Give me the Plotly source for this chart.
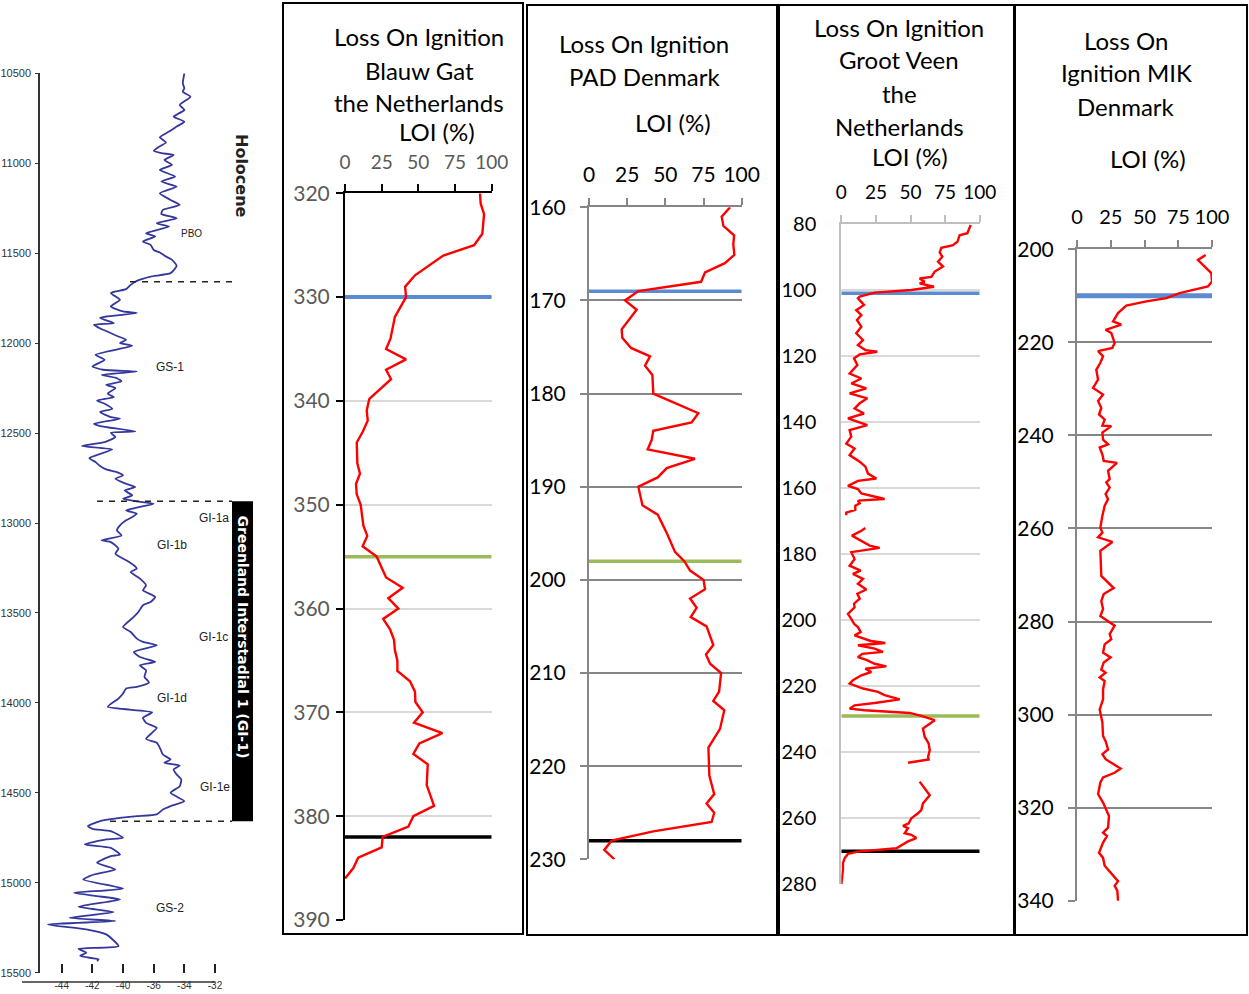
import plotly.graph_objects as go

W, H = 1249, 994


def px(x):
    return x / W


def py(y):
    return 1 - y / H


# ---------------- Greenland ice-core isotope record ----------------
ice_age = [10500, 10556, 10583, 10602, 10630, 10676, 10704, 10741, 10769, 10796,
           10824, 10843, 10856, 10885, 10911, 10930, 10944, 10954, 10982, 11009,
           11037, 11074, 11102, 11130, 11167, 11204, 11232, 11259, 11282, 11306,
           11333, 11352, 11389, 11407, 11435, 11454, 11482, 11496, 11519, 11537,
           11570, 11611, 11630, 11654, 11676, 11700, 11713, 11722, 11759, 11796,
           11824, 11833, 11852, 11861, 11889, 11898, 11926, 11963, 11982, 12000,
           12015, 12065, 12093, 12130, 12148, 12158, 12176, 12195, 12213, 12232,
           12250, 12281, 12300, 12319, 12337, 12365, 12383, 12411, 12420, 12448,
           12461, 12491, 12498, 12522, 12550, 12572, 12591, 12639, 12661, 12683,
           12702, 12717, 12735, 12754, 12782, 12800, 12819, 12846, 12865, 12880,
           12893, 12911, 12930, 12948, 12967, 12985, 13013, 13041, 13069, 13096,
           13106, 13124, 13143, 13170, 13189, 13207, 13235, 13254, 13272, 13309,
           13346, 13374, 13411, 13439, 13457, 13495, 13522, 13578, 13606, 13643,
           13661, 13680, 13717, 13745, 13772, 13791, 13819, 13856, 13887, 13911,
           13920, 13948, 13976, 14022, 14052, 14083, 14111, 14139, 14200, 14222,
           14250, 14287, 14315, 14333, 14348, 14370, 14398, 14426, 14463, 14500,
           14546, 14574, 14593, 14620, 14630, 14639, 14657, 14685, 14700, 14713,
           14750, 14759, 14787, 14806, 14843, 14852, 14889, 14926, 14954, 14982,
           15033, 15056, 15074, 15093, 15133, 15163, 15195, 15213, 15232, 15259,
           15287, 15352, 15367, 15389, 15407, 15426, 15435]
ice_d18o = [-36.0, -36.1, -36.0, -36.1, -35.6, -36.3, -36.0, -36.7, -36.0, -36.5,
            -37.0, -37.4, -37.6, -37.2, -37.7, -38.0, -37.5, -36.7, -37.3, -36.8,
            -37.6, -36.6, -37.5, -36.5, -37.6, -36.9, -36.3, -37.4, -37.5, -36.5,
            -37.8, -37.0, -38.5, -37.9, -38.7, -38.2, -38.0, -37.6, -37.2, -36.8,
            -36.5, -36.9, -38.2, -39.1, -39.5, -39.8, -40.5, -40.8, -40.2, -40.8,
            -40.0, -39.1, -41.1, -41.5, -40.6, -41.9, -41.3, -40.3, -39.8, -40.2,
            -39.4, -41.8, -41.2, -42.0, -41.3, -39.1, -41.4, -40.4, -40.1, -41.1,
            -40.5, -41.0, -40.6, -41.7, -41.2, -40.7, -41.5, -40.8, -40.2, -41.9,
            -41.5, -39.2, -40.8, -40.5, -41.2, -42.7, -40.7, -42.2, -41.8, -41.5,
            -41.1, -40.4, -40.0, -40.5, -39.8, -39.2, -39.9, -39.4, -40.0, -39.1,
            -38.0, -38.9, -39.8, -39.1, -39.4, -39.8, -40.2, -40.4, -40.1, -41.4,
            -40.8, -40.5, -40.3, -40.5, -40.2, -39.8, -39.3, -39.1, -39.5, -38.9,
            -38.5, -38.7, -37.9, -38.2, -38.7, -39.0, -39.3, -40.0, -39.5, -39.1,
            -38.7, -37.8, -39.3, -38.9, -37.9, -38.9, -38.5, -38.6, -38.3, -39.1,
            -39.8, -40.0, -40.3, -41.0, -38.1, -38.7, -38.5, -37.8, -38.5, -37.8,
            -37.6, -37.4, -36.9, -37.3, -36.3, -36.7, -36.5, -36.2, -36.3, -36.9,
            -36.0, -36.9, -37.4, -37.8, -39.1, -40.2, -41.5, -42.3, -42.0, -40.8,
            -40.0, -41.1, -42.5, -40.8, -40.2, -40.8, -41.7, -40.5, -41.9, -42.6,
            -40.0, -43.2, -41.7, -40.2, -42.9, -40.6, -43.5, -40.5, -44.9, -42.4,
            -41.1, -40.3, -42.9, -42.4, -42.8, -41.6, -41.7]
ice_age_ticks = [10500, 11000, 11500, 12000, 12500, 13000, 13500, 14000, 14500, 15000, 15500]
ice_x_ticks = [-44, -42, -40, -38, -36, -34]
ice_x_ticktext = ["-44", "-42", "-40", "-36", "-34", "-32"]
# Stage boundaries (Holocene onset, GI-1 top, GI-1 base)
stage_bounds = [11659, 12879, 14658]
stage_names = ["PBO", "GS-1", "GI-1a", "GI-1b", "GI-1c", "GI-1d", "GI-1e", "GS-2"]

# ---------------- Loss on ignition records ----------------
bg_depth = [320, 321, 322, 323.9, 325, 326, 327.9, 329, 330, 331.9, 334, 335, 336, 337,
            337.9, 339.8, 340.9, 341.9, 343, 344, 346, 347, 348, 349, 350, 352, 353, 354,
            355, 356, 357, 358, 359, 360, 361, 362, 363, 364, 365, 366, 367, 368, 369,
            370, 371, 372, 373, 374, 375, 377, 379, 380, 381, 382, 383, 384, 385, 386]
bg_loi = [92, 92.5, 94.8, 93.6, 88, 67, 47.7, 41, 41.6, 34, 31, 28, 41.6, 28,
          31.4, 16.6, 14.8, 15.5, 12, 8, 8.4, 10.2, 7.5, 8, 10.7, 12.5, 15.2, 12,
          21.6, 25, 28, 39.3, 29.5, 36.4, 26, 30.7, 33.4, 34, 35.7, 35.7, 44.3, 47.7, 48,
          53, 47, 66.4, 50.7, 46.6, 56.4, 55.7, 60.7, 46.6, 43.2, 25.7, 25, 9, 5.7, 0]
bg_events = [330, 355, 382]

pad_depth = [160, 161, 162, 163, 164, 165.1, 166, 167, 168, 169, 170, 171, 173.1, 174,
             175.1, 176, 177, 178, 180, 182.1, 183.1, 184, 185, 186, 187, 188, 189, 190,
             192, 193, 195, 197, 198, 199, 200, 201, 202, 203, 204, 205, 207, 208, 209,
             210, 212, 213, 214, 216, 218, 221, 223, 224, 225, 226, 227, 228, 229, 230]
pad_loi = [92.4, 86.9, 88, 95, 94.5, 95.2, 89, 76, 73.4, 32.3, 23.6, 31.2, 21.4, 21.8,
           27.5, 40, 36.7, 41.5, 42.1, 71.6, 67.2, 42.1, 41, 38.4, 69.4, 50.9, 45, 32.3,
           35, 45, 51, 56.3, 62.4, 66.2, 75, 76, 66.2, 70.5, 66.6, 77, 81.4, 76.6, 79.3,
           86.5, 85.2, 81.4, 88.6, 85.8, 78.2, 78.8, 82, 77, 82, 80.3, 42.1, 14.8, 10, 16.6]
pad_events = [169, 198, 228]

# Groot Veen has two core gaps, drawn as breaks (None)
gv_depth = [80.3, 82.8, 83.4, 85.4, 86.4, 87.2, 88.6, 89.9, 91.4, 92.9, 94.4, 96.0, 96.5,
            97.5, 98.0, 99.0, 100.0, 100.8, 102.0, 102.5, 104.5, 106.1, 107.6, 109.1,
            111.1, 113.1, 115.2, 116.7, 118.2, 118.7, 119.5, 120.7, 122.7, 125.3, 126.8,
            128.3, 129.8, 131.3, 132.8, 134.3, 135.9, 137.4, 138.9, 140.9, 142.4, 144.4,
            146.5, 148.0, 150.0, 152.0, 153.5, 155.6, 157.1, 157.8, 159.3, 160.3, 161.6,
            163.3, 163.8, 164.6, 165.3, 166.6, 167.4, 168.2, None,
            172.1, 172.9, 174.4, 176.1, 177.4, 178.1, 178.9, 179.4, 181.5, 183.5, 185.0,
            186.0, 187.5, 189.0, 190.7, 192.0, 193.5, 195.0, 196.1, 198.1, 199.6, 201.1,
            202.1, 203.6, 204.6, 205.6, 206.3, 206.9, 207.6, 208.6, 209.6, 210.2, 211.2,
            212.0, 213.2, 214.0, 214.7, 215.7, 216.7, 218.2, 219.2, 220.7, 221.7, 222.7,
            223.2, 224.0, 225.1, 225.8, 226.8, 227.3, 228.1, 229.0, 230.3, 232.8, 235.3,
            237.3, 239.4, 241.4, 242.2, 243.2, None,
            248.9, 250.9, 253.0, 255.5, 257.5, 258.5, 260.0, 261.5, 262.3, 263.0, 264.5,
            265.0, 266.0, 267.0, 268.1, 269.1, 270.1, 270.8, 272.1, 273.6, 275.6, 280.1]
gv_loi = [93.5, 91.1, 85.5, 83.9, 80.7, 72.3, 71.1, 73.0, 69.9, 73.5, 67.5, 65.1, 56.6,
          60.2, 56.6, 67.0, 50.6, 24.1, 13.3, 12.0, 16.4, 10.8, 14.5, 11.3,
          14.5, 10.8, 15.7, 12.0, 17.4, 26.0, 13.3, 9.2, 11.6, 6.0, 14.5,
          7.2, 18.1, 6.0, 18.8, 13.3, 9.6, 16.4, 4.8, 18.8, 6.0, 7.2,
          3.6, 9.6, 6.0, 13.3, 17.4, 19.3, 25.3, 12.0, 4.8, 12.0, 14.5,
          31.3, 12.0, 13.3, 10.1, 10.1, 3.6, 3.6, None,
          17.4, 14.5, 7.7, 14.5, 20.5, 27.7, 15.7, 7.2, 9.6, 6.0, 14.0,
          8.4, 15.7, 12.0, 18.1, 11.6, 13.3, 9.2, 9.6, 4.8, 7.2, 9.2,
          12.0, 14.0, 9.6, 15.7, 21.2, 31.8, 12.0, 24.1, 30.1, 15.2, 12.0,
          18.1, 24.1, 32.5, 17.4, 21.7, 14.5, 8.4, 6.0, 15.7, 26.5, 31.3,
          36.1, 42.2, 24.1, 9.6, 6.0, 16.9, 49.4, 57.8, 67.5, 59.0, 60.2,
          63.1, 63.9, 62.7, 63.1, 48.2, None,
          56.6, 60.2, 63.9, 59.0, 57.8, 55.4, 50.6, 48.7, 44.6, 48.2, 45.8,
          50.6, 54.2, 48.2, 43.4, 39.8, 12.0, 4.8, 2.4, 1.2, 1.2, 0.0]
gv_events = [101, 229, 270]

mik_depth = [201.2, 202.3, 203.7, 205.1, 206.9, 208.0, 209.4, 210.5, 211.2, 212.1, 213.7,
             215.5, 216.2, 217.3, 218.0, 220.1, 221.2, 221.9, 223.0, 224.4, 225.9, 228.0,
             229.8, 231.2, 232.6, 234.1, 235.5, 236.6, 237.9, 238.0, 239.4, 240.9, 241.9,
             242.6, 244.1, 245.5, 245.9, 247.6, 249.4, 250.1, 251.2, 252.6, 253.7, 255.1,
             257.3, 259.8, 260.9, 261.9, 262.9, 264.8, 270.2, 272.8, 274.1, 275.6, 277.3,
             278.8, 280.9, 282.7, 283.8, 284.9, 286.7, 287.7, 288.8, 290.3, 291.0, 292.0,
             292.8, 294.6, 296.7, 298.9, 301.7, 304.6, 305.7, 307.5, 308.5, 309.6, 311.6,
             312.5, 313.5, 314.6, 316.1, 317.1, 318.9, 320.4, 321.8, 324.3, 325.4, 326.1,
             327.5, 329.7, 330.8, 332.5, 334.0, 335.8, 336.8, 337.9, 340.1]
mik_loi = [95.3, 89.6, 94.6, 99.5, 100.0, 97.0, 76.0, 66.2, 51.4, 36.5, 30.4,
           26.7, 32.8, 21.2, 25.4, 27.9, 26.2, 15.6, 19.3, 17.3, 14.3, 15.6,
           11.9, 19.3, 15.6, 18.0, 16.3, 20.5, 18.8, 25.4, 18.8, 19.3, 23.0,
           16.8, 18.8, 19.8, 29.6, 23.0, 24.2, 21.7, 24.2, 21.2, 23.0, 20.5,
           18.8, 17.3, 18.8, 15.6, 26.2, 17.3, 18.0, 27.2, 19.8, 18.0, 19.3,
           17.3, 27.9, 24.2, 25.4, 20.5, 19.3, 24.9, 19.8, 18.0, 21.2, 16.8,
           20.5, 19.3, 19.3, 16.8, 18.8, 19.3, 21.2, 23.0, 18.8, 21.2, 32.3,
           27.9, 19.3, 17.3, 16.3, 15.6, 19.3, 21.7, 23.7, 23.0, 19.3, 22.2,
           19.3, 16.3, 19.3, 20.5, 24.7, 30.4, 27.9, 29.9, 30.4]
mik_events = [210]

loi_ticks = [0, 25, 50, 75, 100]

RED = "#FF0000"
EVENT_COLORS = ["#5B8BD2", "#9BBB59", "#000000"]
CAL = "Lato, Carlito, Calibri, Open Sans, sans-serif"
NARROW = "Liberation Sans Narrow, Arial Narrow, Liberation Sans, Arial, sans-serif"

fig = go.Figure()

# ---------------- isotope panel ----------------
fig.add_trace(go.Scatter(x=ice_d18o, y=ice_age, mode="lines",
                         line=dict(color="#34379E", width=1.8, shape="spline", smoothing=0.5),
                         xaxis="x", yaxis="y", showlegend=False, hoverinfo="skip"))

# ---------------- LOI panels ----------------
panels = [
    # (axis suffix, depth, loi, events, event line widths)
    ("2", bg_depth, bg_loi, bg_events, [4, 3.5, 3.5]),
    ("3", pad_depth, pad_loi, pad_events, [3.5, 3.5, 3.5]),
    ("4", gv_depth, gv_loi, gv_events, [3.5, 3.5, 3.5]),
    ("5", mik_depth, mik_loi, mik_events, [5]),
]
for suf, dep, loi, ev, ew in panels:
    for k, d in enumerate(ev):
        fig.add_trace(go.Scatter(x=[0, 100], y=[d, d], mode="lines",
                                 line=dict(color=EVENT_COLORS[k], width=ew[k]),
                                 xaxis="x" + suf, yaxis="y" + suf, showlegend=False,
                                 hoverinfo="skip", cliponaxis=False))
    fig.add_trace(go.Scatter(x=loi, y=dep, mode="lines", connectgaps=False,
                             line=dict(color=RED, width=2.4),
                             xaxis="x" + suf, yaxis="y" + suf, showlegend=False,
                             hoverinfo="skip", cliponaxis=False))

layout = dict(
    template="none",
    width=W, height=H, autosize=False,
    margin=dict(l=0, r=0, t=0, b=0, pad=0),
    paper_bgcolor="white", plot_bgcolor="rgba(0,0,0,0)",
    showlegend=False,
)

# isotope axes
layout["xaxis"] = dict(domain=[px(40), px(232)], range=[-45.42, -32.89],
                       anchor="free", position=py(963), side="bottom", automargin=False,
                       showline=False, showgrid=False, zeroline=False,
                       ticks="outside", ticklen=9, tickwidth=1.5, tickcolor="#222",
                       tickvals=ice_x_ticks, ticktext=ice_x_ticktext,
                       ticklabelstandoff=4,
                       tickfont=dict(family=NARROW, size=10, color="#333"))
layout["yaxis"] = dict(domain=[py(972.7), py(73.3)], range=[15500, 10500],
                       anchor="x", automargin=False, showline=True, linecolor="#333",
                       linewidth=1.5, showgrid=False, zeroline=False, ticks="outside",
                       ticklen=3, tickcolor="#333", tickvals=ice_age_ticks,
                       ticktext=[str(v) for v in ice_age_ticks],
                       ticklabelstandoff=2,
                       tickfont=dict(family=NARROW, size=11, color="#333"))

# LOI axes: (suffix, x px domain, y px domain, y range, y ticks, axis colour, grid colour,
#            tick label colour, x label size, y label size, y ticklen, x standoff, y standoff)
loi_axes = [
    ("2", (345, 491.7), (193.3, 920), (390, 320), list(range(320, 391, 10)),
     "#000000", "#D9D9D9", "#595959", 19, 21, 7, 8, 2),
    ("3", (589, 741.7), (207.3, 859.3), (230, 160), list(range(160, 231, 10)),
     "#868686", "#868686", "#000000", 21, 21, 7, 8, 10),
    ("4", (841.3, 979.7), (224, 884.3), (280, 80), list(range(80, 281, 20)),
     "#BFBFBF", "#D9D9D9", "#000000", 19, 20, 0, 8, 19),
    ("5", (1077, 1212), (249.3, 900.7), (340, 200), list(range(200, 341, 20)),
     "#868686", "#868686", "#000000", 20, 21, 7, 8, 10),
]
for suf, xd, yd, yr, yt, acol, gcol, lcol, xfs, yfs, ylen, xso, yso in loi_axes:
    layout["xaxis" + suf] = dict(domain=[px(xd[0]), px(xd[1])], range=[0, 100],
                                 anchor="y" + suf, side="top", automargin=False,
                                 showline=True, linecolor=acol, linewidth=2,
                                 showgrid=False, zeroline=False, ticks="outside",
                                 ticklen=7, tickwidth=1.5, tickcolor=acol,
                                 tickvals=loi_ticks, ticklabelstandoff=xso,
                                 tickfont=dict(family=CAL, size=xfs, color=lcol))
    layout["yaxis" + suf] = dict(domain=[py(yd[1]), py(yd[0])], range=list(yr),
                                 anchor="x" + suf, automargin=False, showline=True,
                                 linecolor=acol, linewidth=2, showgrid=True,
                                 gridcolor=gcol, gridwidth=1.5, zeroline=False,
                                 ticks="outside" if ylen else "", ticklen=ylen,
                                 tickwidth=1.5, tickcolor=acol, tickvals=yt,
                                 ticklabelstandoff=yso,
                                 tickfont=dict(family=CAL, size=yfs, color=lcol))

shapes = []
# panel frames
for x0, y0, x1, y1 in [(283, 3, 523, 934), (527, 5, 777, 935),
                       (779, 5, 1014, 935), (1015, 5, 1247, 935)]:
    shapes.append(dict(type="rect", xref="paper", yref="paper",
                       x0=px(x0), x1=px(x1), y0=py(y1), y1=py(y0),
                       line=dict(color="black", width=2), fillcolor="rgba(0,0,0,0)"))
# isotope x-axis baseline
shapes.append(dict(type="line", xref="paper", yref="paper", x0=px(22), x1=px(215),
                   y0=py(982), y1=py(982), line=dict(color="#333", width=1.5)))
# stage boundaries
for age, xs in zip(stage_bounds, [130, 97, 110]):
    shapes.append(dict(type="line", xref="paper", yref="y", x0=px(xs), x1=px(232),
                       y0=age, y1=age, line=dict(color="#222", width=1.5, dash="6px,6px")))
# GI-1 bar
shapes.append(dict(type="rect", xref="paper", yref="y", x0=px(232), x1=px(253),
                   y0=stage_bounds[1], y1=stage_bounds[2], fillcolor="black",
                   line=dict(width=0)))

annotations = []


def ann(text, x, y, size, family=CAL, color="black", angle=0):
    annotations.append(dict(text=text, xref="paper", yref="paper", x=px(x), y=py(y),
                            xanchor="center", yanchor="middle", showarrow=False,
                            textangle=angle, font=dict(family=family, size=size, color=color)))


# stage labels
stage_pos = [(191, 233), (170, 367), (214, 518), (172, 545), (214, 637),
             (172, 698), (215, 787), (170, 908)]
for name, (x, y) in zip(stage_names, stage_pos):
    ann(name, x, y, 10 if name == "PBO" else 12, family=NARROW, color="#222")
ann("<b>Holocene</b>", 242, 176, 16, family="DejaVu Sans", color="#222", angle=90)
ann("<b>Greenland Interstadial 1 (GI-1)</b>", 242.5, 637, 14, family="DejaVu Sans",
    color="white", angle=90)

# panel titles
TS = 24
for t, y in [("Loss On Ignition", 37), ("Blauw Gat", 70), ("the Netherlands", 102)]:
    ann(t, 419, y, TS)
ann("LOI (%)", 437, 131, TS)
for t, y in [("Loss On Ignition", 43), ("PAD Denmark", 76)]:
    ann(t, 644, y, TS)
ann("LOI (%)", 673, 122, TS)
for t, y in [("Loss On Ignition", 28), ("Groot Veen", 60), ("the", 93), ("Netherlands", 126)]:
    ann(t, 899, y, TS)
ann("LOI (%)", 910, 156, TS)
for t, y in [("Loss On", 41), ("Ignition MIK", 73), ("Denmark", 106)]:
    ann(t, 1126, y, TS)
ann("LOI (%)", 1148, 158, TS)

layout["shapes"] = shapes
layout["annotations"] = annotations
fig.update_layout(**layout)
fig.write_html("out.html")
